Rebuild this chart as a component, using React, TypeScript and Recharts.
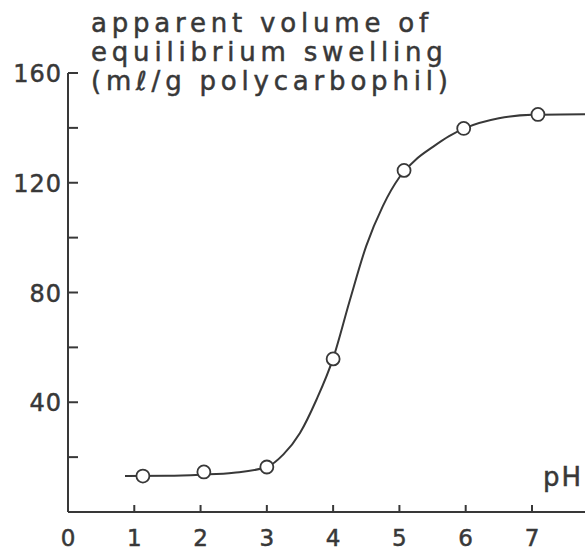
import React from "react";
import { ComposedChart, Line, Scatter, XAxis, YAxis } from "recharts";

// measured points (open circles)
const phValues = [1.13, 2.05, 3.0, 4.0, 5.07, 5.97, 7.09];
const swellValues = [13.1, 14.6, 16.4, 55.8, 124.5, 139.8, 144.9];

// smooth curve drawn through the points
const curvePh = [0.86, 1.5, 2.0, 2.5, 3.0, 3.25, 3.5, 3.75, 4.0, 4.25, 4.5, 4.75, 5.0, 5.25, 5.5, 5.75, 6.0, 6.5, 7.0, 7.8];
const curveSwell = [13.1, 13.2, 13.6, 14.3, 16.4, 21, 28.8, 41, 56, 77, 97, 111.5, 122, 128.5, 133, 137, 140, 143.5, 144.8, 145];

const xTicks = [0, 1, 2, 3, 4, 5, 6, 7];
const yTicks = [20, 40, 60, 80, 100, 120, 140, 160];
const yLabelled = [40, 80, 120, 160];
const titleLines = ["apparent volume of", "equilibrium swelling", "(m\u2113/g polycarbophil)"];
const xTitle = "pH";

const points = phValues.map((ph, i) => ({ ph, swell: swellValues[i] }));
const curve = curvePh.map((ph, i) => ({ ph, swell: curveSwell[i] }));

const INK = "#383838";
const FONT = "'DejaVu Sans', sans-serif";
const textStyle = { fill: INK, stroke: INK, strokeWidth: 0.5, fontFamily: FONT };

function YTick(props: any) {
  const { x, y, payload } = props;
  const v = payload.value;
  return (
    <g>
      <line x1={x} x2={x + 10} y1={y} y2={y} stroke={INK} strokeWidth={2} />
      {yLabelled.includes(v) && (
        <text x={x - 6} y={y + 9} textAnchor="end" fontSize={24} letterSpacing={1} {...textStyle}>
          {v}
        </text>
      )}
    </g>
  );
}

function XTick(props: any) {
  const { x, y, payload } = props;
  return (
    <g>
      {payload.value !== 0 && <line x1={x} x2={x} y1={y} y2={y - 7} stroke={INK} strokeWidth={2} />}
      <text x={x} y={y + 34} textAnchor="middle" fontSize={23} {...textStyle}>
        {payload.value}
      </text>
    </g>
  );
}

const Dot = (props: any) => (
  <circle cx={props.cx} cy={props.cy} r={6.5} fill="#fff" stroke={INK} strokeWidth={1.8} />
);

export default function App() {
  return (
    <div style={{ position: "absolute", left: 0, top: 0, background: "#fff" }}>
      <ComposedChart width={585} height={552} margin={{ top: 73, right: 0, bottom: 0, left: 0 }}>
        <XAxis
          type="number"
          dataKey="ph"
          domain={[0, 7.8]}
          ticks={xTicks}
          allowDataOverflow
          height={40}
          tickSize={0}
          tickMargin={0}
          tickLine={false}
          axisLine={{ stroke: INK, strokeWidth: 2 }}
          tick={<XTick />}
          label={{
            content: () => (
              <text x={543} y={486} fontSize={26} letterSpacing={2} {...textStyle}>
                {xTitle}
              </text>
            ),
          }}
        />
        <YAxis
          type="number"
          dataKey="swell"
          domain={[0, 160]}
          ticks={yTicks}
          width={68}
          tickSize={0}
          tickMargin={0}
          tickLine={false}
          axisLine={{ stroke: INK, strokeWidth: 2 }}
          tick={<YTick />}
          label={{
            content: () => (
              <text fontSize={26} letterSpacing={4.8} {...textStyle}>
                {titleLines.map((t, i) => (
                  <tspan key={i} x={91} y={32 + i * 29}>
                    {t}
                  </tspan>
                ))}
              </text>
            ),
          }}
        />
        <Line
          data={curve}
          dataKey="swell"
          type="monotone"
          stroke={INK}
          strokeWidth={2}
          dot={false}
          activeDot={false}
          isAnimationActive={false}
        />
        <Scatter data={points} dataKey="swell" shape={<Dot />} isAnimationActive={false} />
      </ComposedChart>
    </div>
  );
}
